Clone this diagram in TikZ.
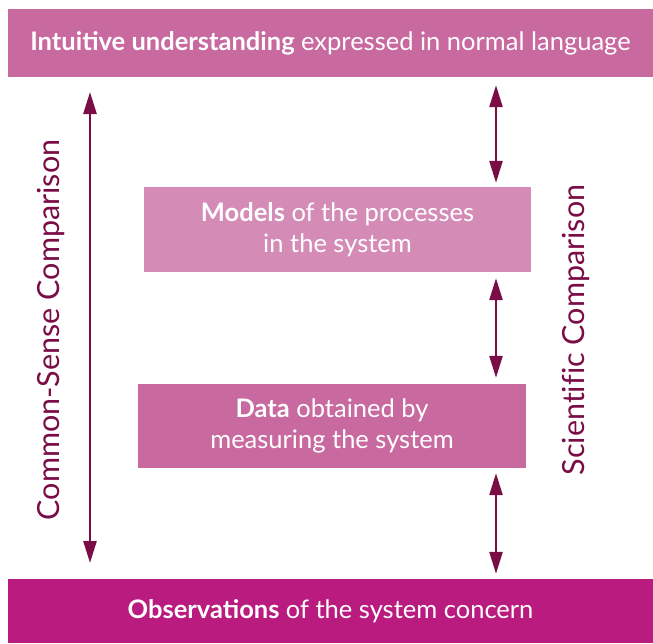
\documentclass[tikz,border=0pt]{standalone}
\usepackage{fontspec}
\setmainfont{Lato}
\usetikzlibrary{arrows.meta}
\definecolor{boxA}{HTML}{C8699F}
\definecolor{boxB}{HTML}{D48CB7}
\definecolor{boxC}{HTML}{B91B7E}
\definecolor{arr}{HTML}{7A0C46}
\tikzset{
  box/.style={fill=#1, draw=none, text=white, align=center, inner sep=0pt, font=\fontsize{25.5}{31}\selectfont},
  dblarrow/.style={arr, line width=2.6pt, {Triangle[length=22pt,width=13pt]}-{Triangle[length=22pt,width=13pt]}},
  sidelabel/.style={text=arr, rotate=90, inner sep=0pt, font=\fontsize{30.5}{34}\selectfont}
}
\begin{document}
\begin{tikzpicture}[x=1pt,y=-1pt]
\useasboundingbox (0,0) rectangle (653,643);
\node[box=boxA, minimum width=645pt, minimum height=68pt] (top) at (330.5,43) {\textbf{Intuitive understanding} expressed in normal language};
\node[box=boxB, minimum width=387pt, minimum height=85pt] (models) at (337.5,229.5) {\textbf{Models} of the processes\\in the system};
\node[box=boxA, minimum width=388pt, minimum height=84pt] (data) at (332,426) {\textbf{Data} obtained by\\measuring the system};
\node[box=boxC, minimum width=645pt, minimum height=64pt] (obs) at (330.5,611) {\textbf{Observations} of the system concern};
\coordinate (lt) at (90,92);
\coordinate (lb) at (90,563);
\draw[dblarrow] (lt) -- (lb);
\draw[dblarrow] ([yshift=-8pt]top.south -| 496,0) -- ([yshift=4pt]models.north -| 496,0);
\draw[dblarrow] ([yshift=-6pt]models.south -| 496,0) -- ([yshift=6pt]data.north -| 496,0);
\draw[dblarrow] ([yshift=-5pt]data.south -| 496,0) -- ([yshift=5pt]obs.north -| 496,0);
\node[sidelabel] (csc) at (51,330) {Common-Sense Comparison};
\node[sidelabel] (sc) at (576,330) {\addfontfeatures{Ligatures=NoCommon}Scientific Comparison};
\end{tikzpicture}
\end{document}
